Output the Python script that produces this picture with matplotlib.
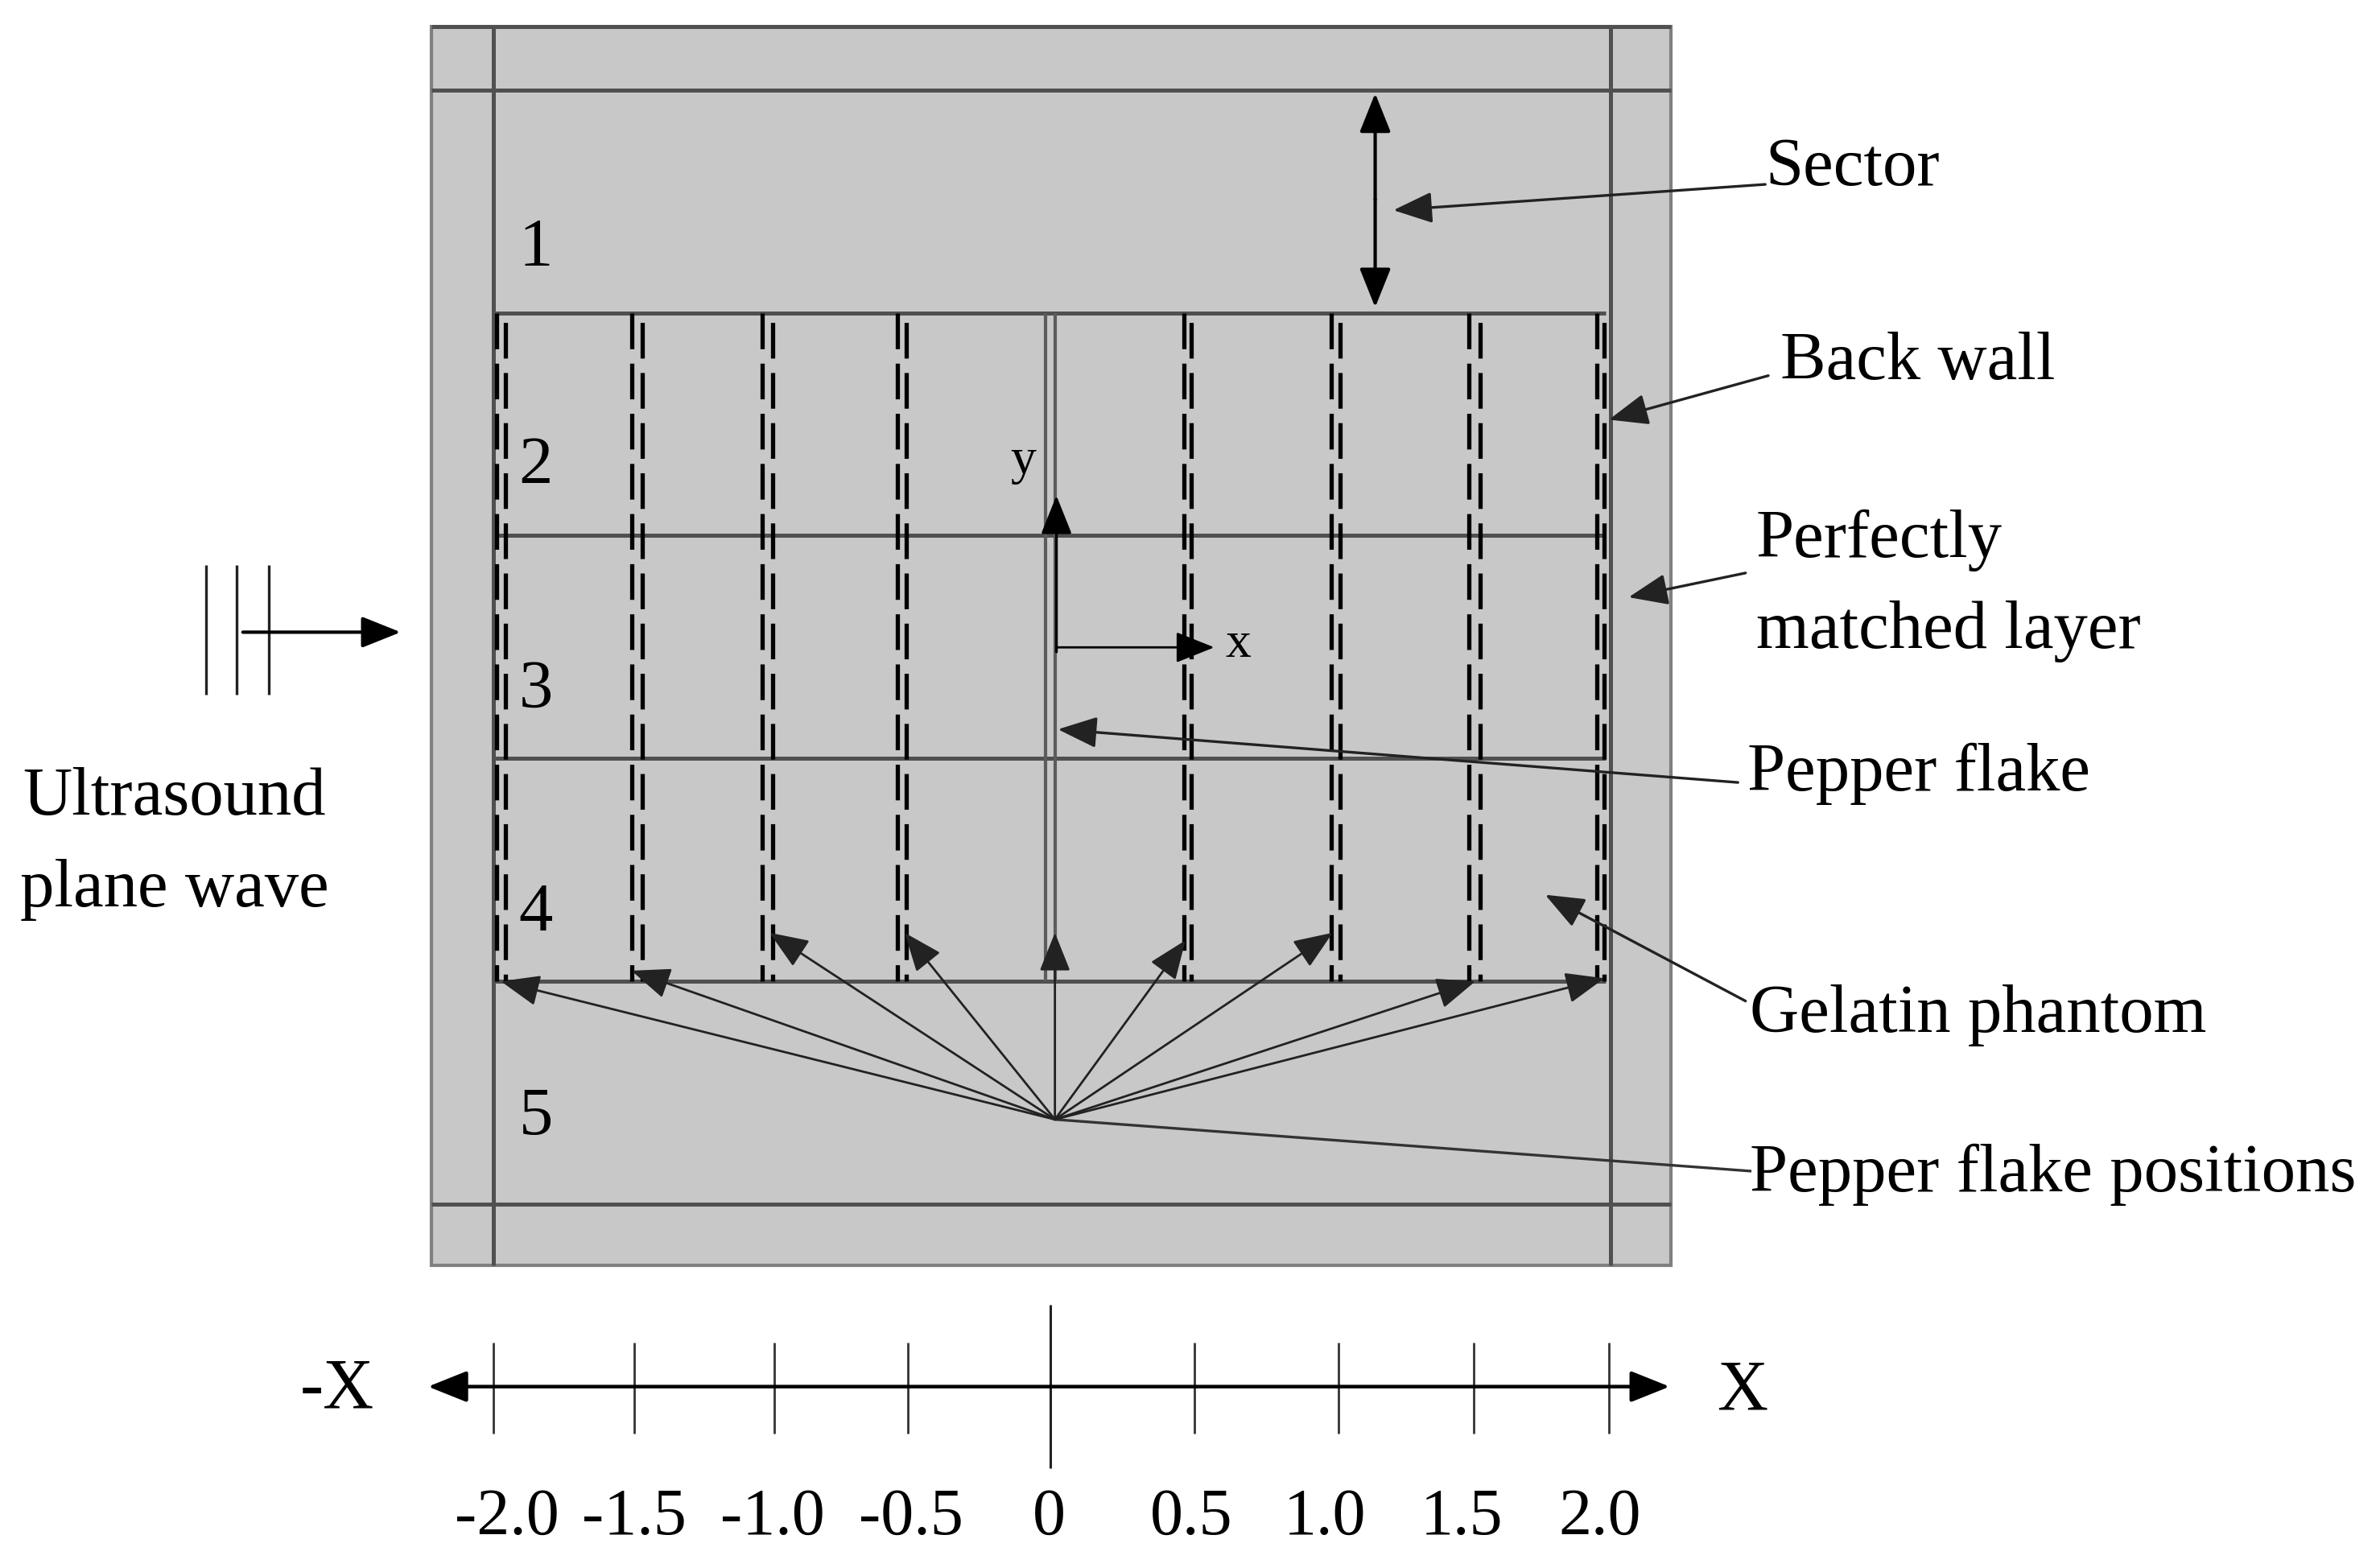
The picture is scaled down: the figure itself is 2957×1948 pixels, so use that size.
import matplotlib
matplotlib.use("Agg")
import matplotlib.pyplot as plt
from matplotlib.patches import Rectangle

# Everything below is in picture units, 1568 wide
WIDTH, HEIGHT = 1568, 1033.5

outer_x = [284, 1101]
outer_y = [18, 834]
pml_x = [325, 1061]
pml_y = [60, 794]
phantom_x = [325, 1058]
phantom_y = [207, 647]
sector_y = [353, 500]

solid_x = [327, 416, 502, 591, 780, 877, 968, 1052]
dashed_x = [333, 423, 509, 597, 785, 883, 975, 1057]
flake_x = [689, 695]

fan_origin = (695, 738)
fan_tip_x = [330, 416, 507, 596, 695, 781, 878, 972, 1057]
fan_tip_y = [647, 640, 615, 615, 615, 620, 615, 647, 645]

region_labels = ["1", "2", "3", "4", "5"]
region_x = [353, 353, 353, 353, 353]
region_y = [164, 308, 455, 602, 737]

note_labels = ["Sector", "Back wall", "Perfectly", "matched layer",
               "Pepper flake", "Gelatin phantom", "Pepper flake positions"]
note_x = [1163, 1173, 1157, 1157, 1151, 1153, 1153]
note_y = [111, 239, 356, 416, 510, 669, 774]

pointer_start = [(1163, 122), (1165, 248), (1150, 378), (1145, 516), (1150, 660)]
pointer_end = [(918, 139), (1060, 277), (1073, 394), (697, 481), (1018, 590)]

wave_x = [136, 156, 177]
wave_y = [373, 458]

tick_x = [325, 418, 510, 598, 692, 787, 882, 971, 1060]
tick_text = ["-2.0", "-1.5", "-1.0", "-0.5", "0", "0.5", "1.0", "1.5", "2.0"]
tick_text_x = [334, 418, 509, 600, 691, 785, 873, 963, 1054]

GREY_FILL = "#c8c8c8"
GREY_LINE = "#505050"
EDGE = "#808080"
FONT = "Liberation Serif"
FS = 61


def arrow(ax, start, end, lw=2.0, color="black", style="-|>"):
    # head sizes are in units of mutation_scale (points)
    ax.annotate(
        "",
        xy=end,
        xytext=start,
        arrowprops=dict(
            arrowstyle=f"{style},head_length=3.0,head_width=1.2",
            mutation_scale=10,
            shrinkA=0,
            shrinkB=0,
            lw=lw,
            color=color,
        ),
    )


fig = plt.figure(figsize=(29.57, 19.49), dpi=100)
ax = fig.add_axes([0, 0, 1, 1])
ax.set_xlim(0, WIDTH)
ax.set_ylim(HEIGHT, 0)
ax.axis("off")

# grey domain
ax.add_patch(Rectangle(
    (outer_x[0], outer_y[0]),
    outer_x[1] - outer_x[0],
    outer_y[1] - outer_y[0],
    facecolor=GREY_FILL,
    edgecolor=EDGE,
    lw=3.0,
))

# PML and sector lines
ax.vlines(pml_x, outer_y[0], outer_y[1], color=GREY_LINE, lw=3.6)
ax.hlines(pml_y, outer_x[0], outer_x[1], color=GREY_LINE, lw=3.6)
ax.hlines(outer_y[0], outer_x[0], outer_x[1], color=GREY_LINE, lw=3.6)
ax.hlines(phantom_y, phantom_x[0], phantom_x[1], color=GREY_LINE, lw=3.6)
ax.hlines(sector_y, phantom_x[0], phantom_x[1], color=GREY_LINE, lw=3.6)

# flake positions, both sides are dashed, the right side starts a little lower
for x in solid_x + dashed_x:
    offset = 0 if x in solid_x else -14
    ax.plot(
        [x, x],
        [phantom_y[0], phantom_y[1]],
        color="black",
        lw=3.8,
        dash_capstyle="butt",
        linestyle=(offset, (8.4, 3.4)),
    )
ax.vlines(flake_x, phantom_y[0], phantom_y[1], color="#5c5c5c", lw=3.0)

# fan of arrows to the flake positions
for x, y in zip(fan_tip_x, fan_tip_y):
    arrow(ax, fan_origin, (x, y), lw=2.0, color="#222222")

# sector double arrow
arrow(ax, (906, 132), (906, 62), lw=3.0, color="black")
arrow(ax, (906, 132), (906, 203), lw=3.0, color="black")

# local coordinate axes
arrow(ax, (696, 430), (696, 327), lw=2.4)
arrow(ax, (696, 427), (800, 427), lw=2.0)
ax.text(674, 304, "y", family=FONT, fontsize=46, ha="center", va="center")
ax.text(816, 425, "x", family=FONT, fontsize=46, ha="center", va="center")

# pointers from the notes
for start, end in zip(pointer_start, pointer_end):
    arrow(ax, start, end, lw=2.4, color="#222222")
ax.plot([1153, 695], [772, 738], color="#333333", lw=2.4)

for label, x, y in zip(region_labels, region_x, region_y):
    ax.text(x, y, label, family=FONT, fontsize=FS, ha="center", va="center")
for label, x, y in zip(note_labels, note_x, note_y):
    ax.text(x, y, label, family=FONT, fontsize=FS, ha="left", va="center")

# incoming plane wave
ax.vlines(wave_x, wave_y[0], wave_y[1], color="#222222", lw=2.4)
arrow(ax, (160, 417), (264, 417), lw=3.0)
ax.text(115, 526, "Ultrasound", family=FONT, fontsize=FS, ha="center", va="center")
ax.text(115, 586, "plane wave", family=FONT, fontsize=FS, ha="center", va="center")

# position axis
arrow(ax, (692, 914), (282, 914), lw=3.2)
arrow(ax, (692, 914), (1100, 914), lw=3.2)
for x in tick_x:
    if x == 692:
        ax.vlines(x, 860, 968, color="#222222", lw=2.2)
    else:
        ax.vlines(x, 885, 945, color="#333333", lw=2.0)
for label, x in zip(tick_text, tick_text_x):
    ax.text(x, 1000, label, family=FONT, fontsize=FS - 2, ha="center", va="center")
ax.text(222, 916, "-X", family=FONT, fontsize=FS + 2, ha="center", va="center")
ax.text(1148, 917, "X", family=FONT, fontsize=FS + 2, ha="center", va="center")

fig.savefig("out.png", dpi=100, facecolor="white")
